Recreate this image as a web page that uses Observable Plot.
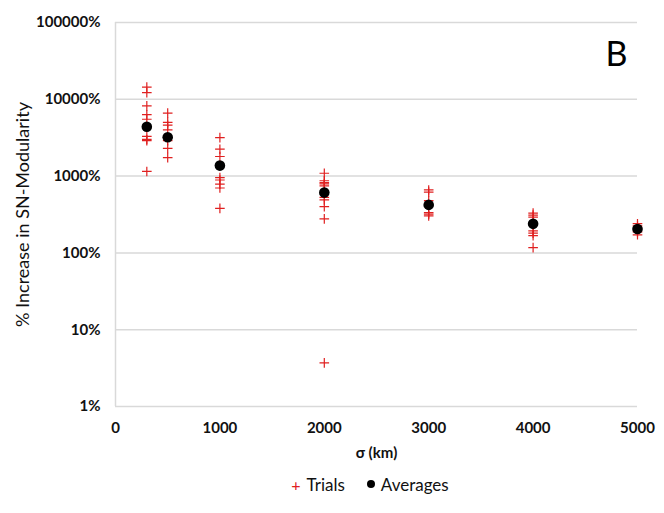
<!DOCTYPE html>
<html>
<head>
<meta charset="utf-8">
<script src="https://cdn.jsdelivr.net/npm/d3@7"></script>
<script src="https://cdn.jsdelivr.net/npm/@observablehq/plot@0.6"></script>
<style>
  html, body { margin: 0; padding: 0; background: #fff; }
  body { width: 664px; height: 513px; overflow: hidden; font-family: Lato, "Open Sans", sans-serif; }
  #legend { display: flex; justify-content: center; align-items: center; gap: 22px; font-size: 17px; color: #111; height: 28px; margin-left: 76px; }
  #legend span.item { display: flex; align-items: center; gap: 6px; }
</style>
</head>
<body>
<div id="chart"></div>
<div id="legend">
  <span class="item"><span style="color:#e02020;font-size:16px;">+</span><span>Trials</span></span>
  <span class="item"><span style="display:inline-block;width:8px;height:8px;border-radius:50%;background:#000;"></span><span>Averages</span></span>
</div>
<script>
// sigma values (km)
const sigmas = [300, 500, 1000, 2000, 3000, 4000, 5000];
// individual trial results (% increase), one array per sigma
const trials300  = [14400, 12200, 8200, 6300, 5500, 3300, 3000, 2900, 1150];
const trials500  = [6600, 5000, 4600, 4000, 2900, 2300, 1740];
const trials1000 = [3170, 2240, 1800, 955, 890, 785, 700, 380];
const trials2000 = [1090, 870, 820, 790, 745, 530, 490, 400, 277, 3.7];
const trials3000 = [660, 620, 480, 335, 320, 303];
const trials4000 = [330, 310, 292, 193, 181, 168, 117];
const trials5000 = [240, 225, 188, 172];
// averages (% increase)
const averages = [4400, 3200, 1370, 610, 422, 239, 205];
// axis ticks
const yTicks = [1, 10, 100, 1000, 10000, 100000];
const xTicks = [0, 1000, 2000, 3000, 4000, 5000];

const trialSets = [trials300, trials500, trials1000, trials2000, trials3000, trials4000, trials5000];
const trials = trialSets.flatMap((arr, i) => arr.map(v => ({sigma: sigmas[i], value: v})));
const avg = sigmas.map((s, i) => ({sigma: s, value: averages[i]}));

const chart = Plot.plot({
  width: 664,
  height: 470,
  marginLeft: 115,
  marginRight: 27,
  marginTop: 22,
  marginBottom: 64,
  style: {fontFamily: "Lato, 'Open Sans', sans-serif", background: "#fff", overflow: "visible"},
  x: {domain: [0, 5000]},
  y: {type: "log", domain: [1, 100000]},
  marks: [
    Plot.ruleY(yTicks, {stroke: "#d9d9d9", strokeWidth: 1.5}),
    Plot.ruleX([0], {stroke: "#d9d9d9", strokeWidth: 1.5}),
    Plot.axisY({ticks: yTicks, tickSize: 0, tickPadding: 15, tickFormat: d => d + "%", label: null,
      fontSize: 15, fontWeight: "bold", fill: "#111"}),
    Plot.axisX({ticks: xTicks, tickSize: 0, tickPadding: 16, tickFormat: d => String(d), label: null,
      fontSize: 15, fontWeight: "bold", fill: "#111"}),
    Plot.text(["% Increase in SN-Modularity"], {frameAnchor: "left", dx: -92, rotate: -90, textAnchor: "middle", fontSize: 18, fill: "#111"}),
    Plot.text(["σ (km)"], {frameAnchor: "bottom", dy: 51, fontSize: 15, fontWeight: "bold", fill: "#111"}),
    Plot.text(["B"], {frameAnchor: "top-right", dx: -10, dy: 19, fontSize: 34, fill: "#000"}),
    Plot.dot(trials, {x: "sigma", y: "value", symbol: "plus", r: 3.2, stroke: "#e02020", strokeWidth: 1.2}),
    Plot.dot(avg, {x: "sigma", y: "value", r: 5.3, fill: "#000", stroke: "none"})
  ]
});
document.getElementById("chart").appendChild(chart);
</script>
</body>
</html>
